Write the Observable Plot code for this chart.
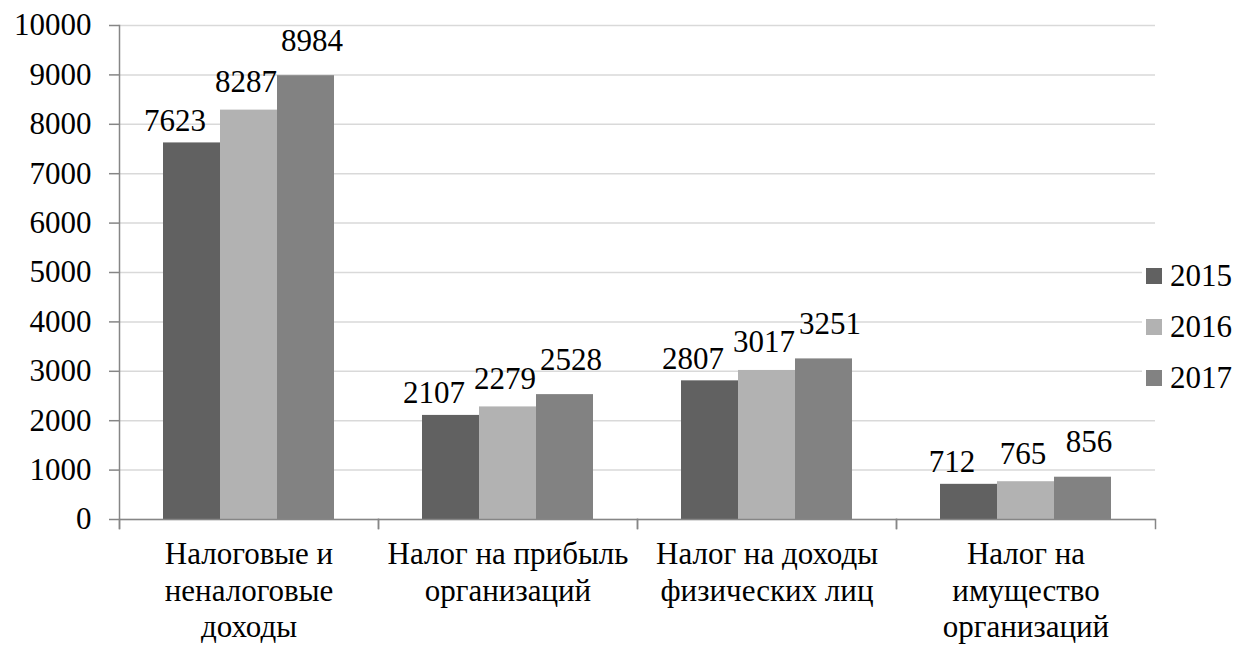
<!DOCTYPE html>
<html>
<head>
<meta charset="utf-8">
<script src="https://cdn.jsdelivr.net/npm/d3@7"></script>
<script src="https://cdn.jsdelivr.net/npm/@observablehq/plot@0.6"></script>
<style>
  html, body { margin: 0; padding: 0; background: #fff; }
  #wrap { position: relative; width: 1235px; height: 646px; }
  #wrap svg { display: block; }
  #legend { position: absolute; left: 1142px; top: 246px; background: #fff;
    font-family: "Liberation Serif", serif; font-size: 31px; color: #000; padding: 4px 0 4px 4px; }
  #legend .row { display: flex; align-items: center; height: 51px; }
  #legend .sw { width: 16px; height: 16px; margin-right: 8px; }
</style>
</head>
<body>
<div id="wrap"><div id="legend"></div></div>
<script>
const categories = [
  "Налоговые и неналоговые доходы",
  "Налог на прибыль организаций",
  "Налог на доходы физических лиц",
  "Налог на имущество организаций"
];
const categoryLabels = [
  "Налоговые и\nненалоговые\nдоходы",
  "Налог на прибыль\nорганизаций",
  "Налог на доходы\nфизических лиц",
  "Налог на\nимущество\nорганизаций"
];
const years = ["2015", "2016", "2017"];
const values2015 = [7623, 2107, 2807, 712];
const values2016 = [8287, 2279, 3017, 765];
const values2017 = [8984, 2528, 3251, 856];
const yTicks = [0, 1000, 2000, 3000, 4000, 5000, 6000, 7000, 8000, 9000, 10000];
const colors = ["#616161", "#b2b2b2", "#828282"];

const series = [values2015, values2016, values2017];
const data = [];
categories.forEach((c, i) => years.forEach((y, j) => data.push({cat: c, year: y, value: series[j][i]})));
const labelOf = new Map(categories.map((c, i) => [c, categoryLabels[i]]));

const axisGray = "#868686";
const gridGray = "#d9d9d9";
const W = 1235, H = 646, mT = 25, mB = 127, mL = 117, mR = 79;
const font = "Liberation Serif";
const fs = 31;
// per-series label offsets (as placed in the original)
const labelDx = [-17, -3, 6];
const labelDy = [-12, -18, -25];

const labelMarks = years.map((y, j) =>
  Plot.text(data.filter(d => d.year === y), {fx: "cat", x: "year", y: "value", text: d => String(d.value),
    lineAnchor: "bottom", dx: labelDx[j], dy: labelDy[j], fontSize: fs, fontFamily: font, fill: "#000"}));

const chart = Plot.plot({
  width: W, height: H,
  marginTop: mT, marginBottom: mB, marginLeft: mL, marginRight: mR,
  style: {fontFamily: font, fontSize: fs + "px", color: "#000", background: "#fff"},
  fx: {domain: categories, padding: 0, axis: null},
  x: {domain: years, paddingInner: 0, paddingOuter: 0.75, axis: null},
  y: {domain: [0, 10000], axis: null},
  color: {domain: years, range: colors},
  marks: [
    Plot.gridY(yTicks, {stroke: gridGray, strokeOpacity: 1, strokeWidth: 1.5}),
    Plot.barY(data, {fx: "cat", x: "year", y: "value", fill: "year"}),
    ...labelMarks,
    Plot.ruleY([0], {stroke: axisGray, strokeWidth: 1.5}),
    Plot.frame({anchor: "left", facetAnchor: "left", stroke: axisGray, strokeWidth: 1.5, insetBottom: -9}),
    Plot.frame({anchor: "left", stroke: axisGray, strokeWidth: 1.5, insetTop: H - mT - mB, insetBottom: -9}),
    Plot.frame({anchor: "right", stroke: axisGray, strokeWidth: 1.5, insetTop: H - mT - mB, insetBottom: -9}),
    Plot.axisY(yTicks, {tickSize: 10, tickPadding: 18, stroke: axisGray, strokeWidth: 1.5, fill: "#000",
      fontSize: fs, fontFamily: font, label: null, tickFormat: d => String(d)}),
    Plot.axisFx({anchor: "bottom", tickSize: 0, tickPadding: 18, fontSize: fs, fontFamily: font, fill: "#000", label: null,
      lineHeight: 1.19, tickFormat: c => labelOf.get(c)})
  ]
});
document.getElementById("wrap").prepend(chart);

const legend = document.getElementById("legend");
years.forEach((y, i) => {
  const row = document.createElement("div");
  row.className = "row";
  const sw = document.createElement("div");
  sw.className = "sw";
  sw.style.background = colors[i];
  const t = document.createElement("span");
  t.textContent = y;
  row.append(sw, t);
  legend.append(row);
});
</script>
</body>
</html>
